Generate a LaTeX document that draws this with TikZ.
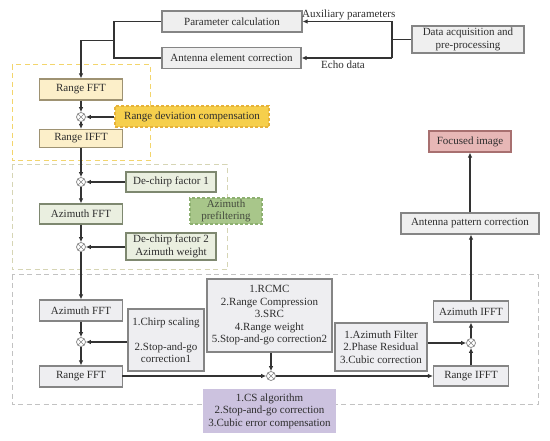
\documentclass[tikz,border=0pt]{standalone}
\usepackage{fontspec}
\setmainfont{Liberation Serif}
\usetikzlibrary{arrows.meta}
\definecolor{txt}{HTML}{2E2E2E}
\definecolor{ln}{HTML}{333333}
\definecolor{grayfill}{HTML}{EFEFEF}
\definecolor{grayedge}{HTML}{858585}
\definecolor{yelfill}{HTML}{FCEFC9}
\definecolor{yeledge}{HTML}{9E9272}
\definecolor{goldfill}{HTML}{F6CF4C}
\definecolor{goldedge}{HTML}{E6B23A}
\definecolor{grnfill}{HTML}{EAEFE0}
\definecolor{grnedge}{HTML}{7E8870}
\definecolor{grnfill2}{HTML}{A8C68A}
\definecolor{grnedge2}{HTML}{8DB070}
\definecolor{pinkfill}{HTML}{E7B7B6}
\definecolor{pinkedge}{HTML}{A87070}
\definecolor{lavfill}{HTML}{CCC2DF}
\definecolor{botfill}{HTML}{EEEEF1}
\definecolor{grp1}{HTML}{F3D56C}
\definecolor{grp2}{HTML}{D6D5B5}
\definecolor{grp3}{HTML}{C2C2C2}
\tikzset{
  base/.style={rectangle, draw, line width=1.1pt, inner sep=1pt, align=center,
    text=txt, font=\fontsize{11}{12.5}\selectfont},
  graybox/.style={base, fill=grayfill, draw=grayedge},
  yelbox/.style={base, fill=yelfill, draw=yeledge},
  grnbox/.style={base, fill=grnfill, draw=grnedge},
  botbox/.style={base, fill=botfill, draw=grayedge},
  mult/.style={circle, draw=grayedge, fill=white, line width=0.7pt, minimum size=9pt, inner sep=0pt,
    path picture={\draw[grayedge, line width=0.6pt] (path picture bounding box.north west) -- (path picture bounding box.south east)
      (path picture bounding box.north east) -- (path picture bounding box.south west);}},
  conn/.style={draw=ln, line width=1.3pt},
  arr/.style={conn, -{Latex[length=5pt,width=4.5pt]}},
  grp/.style={dash pattern=on 5pt off 3.5pt, line width=1pt},
  lbl/.style={text=txt, font=\fontsize{11}{12.5}\selectfont, inner sep=0pt}
}
\begin{document}
\begin{tikzpicture}[x=1pt,y=-1pt]
\useasboundingbox (0,0) rectangle (550,441);
% groups
\draw[grp, draw=grp1] (12,65) rectangle (150,161);
\draw[grp, draw=grp2] (12,165) rectangle (227,270);
\draw[grp, draw=grp3] (12,275) rectangle (538,405);
% top boxes
\node[graybox, minimum width=140pt, minimum height=21pt] (param) at (232,21.5) {Parameter calculation};
\node[graybox, minimum width=139pt, minimum height=21pt] (ant) at (231.5,58) {Antenna element correction};
\node[graybox, minimum width=112pt, minimum height=27pt] (data) at (468,39.5) {Data acquisition and\\pre-processing};
\coordinate (b1) at (392,21.5);
\coordinate (b2) at (392,58);
\draw[conn] (data.west) -- (data.west -| b1);
\draw[conn] (b1) -- (b2);
\draw[arr] (b1) -- (param.east);
\draw[arr] (b2) -- (ant.east);
\node[lbl, anchor=south west] (aux) at (302,20) {Auxiliary parameters};
\node[lbl, anchor=north] (echo) at (343,61) {Echo data};
\coordinate (l1) at (114,21.5);
\coordinate (l2) at (114,58);
\coordinate (l3) at (114,40.5);
\coordinate (l4) at (81,40.5);
\draw[conn] (param.west) -- (l1) -- (l2) -- (ant.west);
% group 1
\node[yelbox, minimum width=83pt, minimum height=21pt] (rfft) at (81,89.5) {Range FFT};
\node[mult] (m1) at (81,117) {};
\node[yelbox, minimum width=83pt, minimum height=18pt] (rifft1) at (81,138.5) {Range IFFT};
\node[base, fill=goldfill, draw=goldedge, dash pattern=on 3pt off 2pt, minimum width=154pt, minimum height=21pt] (rdc) at (192,116.5) {Range deviation compensation};
\draw[arr] (l3) -- (l4) -- (rfft.north);
\draw[arr] (rfft.south) -- (m1);
\draw[arr] (m1) -- (rifft1.north);
\draw[arr] (m1 -| rdc.west) -- (m1);
% group 2
\node[mult] (m2) at (81,182) {};
\node[grnbox, minimum width=90pt, minimum height=20pt] (dc1) at (171,182) {De-chirp factor 1};
\node[grnbox, minimum width=83pt, minimum height=20pt] (azfft1) at (81,214) {Azimuth FFT};
\node[base, fill=grnfill2, draw=grnedge2, dash pattern=on 3pt off 2pt, text=grnedge!55!black, minimum width=72pt, minimum height=26pt] (pref) at (226,211) {Azimuth\\prefiltering};
\node[mult] (m3) at (81,247) {};
\node[grnbox, minimum width=90pt, minimum height=27pt] (dc2) at (171,246.5) {De-chirp factor 2\\Azimuth weight};
\draw[arr] (rifft1.south) -- (m2);
\draw[arr] (dc1.west) -- (m2);
\draw[arr] (m2) -- (azfft1.north);
\draw[arr] (azfft1.south) -- (m3);
\draw[arr] (m3 -| dc2.west) -- (m3);
% group 3
\node[botbox, minimum width=83pt, minimum height=21pt] (azfft2) at (81,310.5) {Azimuth FFT};
\node[mult] (m4) at (81,342) {};
\node[botbox, minimum width=83pt, minimum height=21pt] (rfft2) at (81,376.5) {Range FFT};
\node[botbox, minimum width=76pt, minimum height=62pt] (chirp) at (166,340) {1.Chirp scaling\\[12.5pt]2.Stop-and-go\\correction1};
\node[botbox, minimum width=125pt, minimum height=73pt] (rcmc) at (269.5,315.5) {1.RCMC\\2.Range Compression\\3.SRC\\4.Range weight\\5.Stop-and-go correction2};
\node[mult] (m5) at (271,376) {};
\node[botbox, minimum width=92pt, minimum height=48pt] (azf) at (381,347) {1.Azimuth Filter\\2.Phase Residual\\3.Cubic correction};
\node[botbox, minimum width=75pt, minimum height=20pt] (rifft2) at (471,376) {Range IFFT};
\node[mult] (m6) at (471,343) {};
\node[botbox, minimum width=75pt, minimum height=21pt] (azifft) at (471,311.5) {Azimuth IFFT};
\node[base, fill=lavfill, draw=none, minimum width=133pt, minimum height=44pt] (cs) at (269.5,411) {1.CS algorithm\\2.Stop-and-go correction\\3.Cubic error compensation};
\draw[arr] (m3) -- (azfft2.north);
\draw[arr] (azfft2.south) -- (m4);
\draw[arr] (m4 -| chirp.west) -- (m4);
\draw[arr] (m4) -- (rfft2.north);
\draw[arr] (rfft2.east) -- (m5 -| rfft2.east) -- (m5);
\draw[arr] (rcmc.south -| m5) -- (m5);
\draw[arr] (m5) -- (rifft2.west |- m5);
\draw[arr] (rifft2.north) -- (m6);
\draw[arr] (m6 -| azf.east) -- (m6);
\draw[arr] (m6) -- (azifft.south);
% right column
\node[graybox, minimum width=138pt, minimum height=21pt] (apc) at (470,223.5) {Antenna pattern correction};
\node[base, fill=pinkfill, draw=pinkedge, minimum width=82pt, minimum height=21pt] (foc) at (470,141.5) {Focused image};
\draw[arr] (azifft.north) -- (apc.south -| azifft.north);
\draw[arr] (apc.north -| foc.south) -- (foc.south);
\end{tikzpicture}
\end{document}
